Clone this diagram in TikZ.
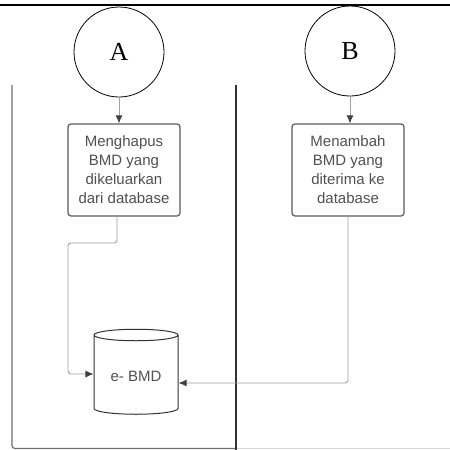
\documentclass[tikz,border=0pt]{standalone}
\usepackage{fontspec}
\setmainfont{Liberation Serif}
\setsansfont{Liberation Sans}
\usetikzlibrary{shapes,arrows.meta,positioning,calc}
\tikzset{>=latex}
\definecolor{txtgray}{RGB}{80,80,80}
\definecolor{boxgray}{RGB}{90,90,90}
\definecolor{linegray}{RGB}{160,160,160}
\definecolor{lanegray}{RGB}{110,110,110}
\tikzset{
  conn/.style={draw=linegray,line width=0.9pt,rounded corners=3pt},
  tip/.style={-{Latex[length=8pt,width=7pt,color=black!75]}},
  proc/.style={draw=boxgray,line width=1.2pt,rounded corners=3pt,minimum width=112pt,minimum height=92pt,align=center,font=\sffamily\fontsize{15}{19}\selectfont,text=txtgray,inner sep=2pt},
  conncircle/.style={circle,draw,line width=0.8pt,minimum size=90pt,font=\fontsize{26}{30}\selectfont},
  store/.style={cylinder,shape border rotate=90,aspect=0.2,draw=black!80,line width=1pt,minimum width=84pt,minimum height=85pt,font=\sffamily\fontsize{15}{18}\selectfont,text=txtgray}
}
\begin{document}
\begin{tikzpicture}[x=1pt,y=-1pt]
    \useasboundingbox (0,0) rectangle (450,450);
    \draw [line width=2pt] (0,5) -- (450,5);
    \draw [lanegray,line width=1.2pt,rounded corners=3pt] (12,85) -- (12,448.5) -- (236,448.5);
    \draw [black!15,line width=0.8pt] (236,448.5) -- (450,448.5);
    \draw [black!80,line width=1.2pt] (236,85) -- (236,450);

    \node [conncircle] (ca) at (119,52) {A};
    \node [conncircle] (cb) at (350,51) {B};

    \node [proc] (hapus) at (124,170) {Menghapus\\BMD yang\\dikeluarkan\\dari database};
    \node [proc] (tambah) at (348,170) {Menambah\\BMD yang\\diterima ke\\database};

    \node [store] (db) at (136,376) {e- BMD};

    \draw [conn,tip] (ca.south) -- (ca.south |- hapus.north);
    \draw [conn,tip] (cb.south) -- (cb.south |- tambah.north);
    \draw [conn,tip] (117,216) -- (117,243) -- (68,243) -- (68,374) -- ($(db.west)+(0,-2)$);
    \draw [conn,tip] (tambah.south) -- (348,383) -- ($(db.east)+(0,7)$);
\end{tikzpicture}
\end{document}
